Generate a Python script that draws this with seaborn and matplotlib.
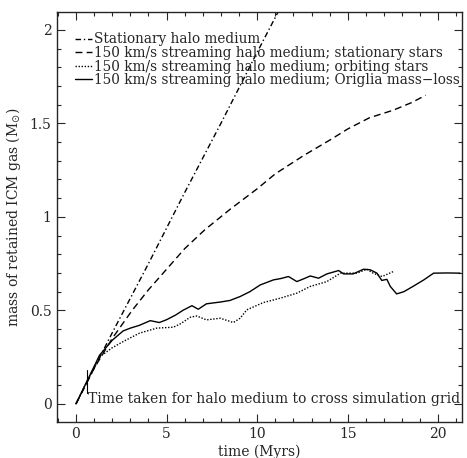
import matplotlib
matplotlib.use("Agg")
import matplotlib.pyplot as plt
from matplotlib.ticker import MultipleLocator
import seaborn as sns
import pandas as pd

# Stationary halo medium
time_stationary = [0, 2, 4, 6, 8, 10, 11.5]
mass_stationary = [0, 0.38, 0.75, 1.13, 1.50, 1.88, 2.16]

# 150 km/s streaming halo medium; stationary stars
time_stat_stars = [0, 1, 2, 3.1, 4, 5, 6, 7.1, 8.5, 10, 11, 12.6, 14, 15, 16.2, 17.5, 18.5, 19.3]
mass_stat_stars = [0, 0.19, 0.35, 0.5, 0.61, 0.72, 0.83, 0.93, 1.04, 1.15, 1.23, 1.33,
                   1.41, 1.47, 1.53, 1.57, 1.61, 1.65]

# 150 km/s streaming halo medium; orbiting stars
time_orbit = [0, 0.6, 1.33, 2.0, 2.6, 3.5, 4.46, 5.38, 5.8, 6.3, 6.67, 7.2, 7.96, 8.69,
              9.06, 9.43, 10.35, 11.27, 12.19, 12.93, 13.85, 14.6, 15.5, 16.06, 16.4,
              16.9, 17.5]
mass_orbit = [0, 0.12, 0.253, 0.30, 0.333, 0.378, 0.405, 0.41, 0.43, 0.463, 0.47, 0.449,
              0.458, 0.435, 0.458, 0.503, 0.542, 0.565, 0.592, 0.628, 0.654, 0.699, 0.699,
              0.72, 0.699, 0.681, 0.707]

# 150 km/s streaming halo medium; Origlia mass-loss
time_origlia = [0, 0.6, 1.3, 2.0, 2.6, 3.0, 3.5, 4.1, 4.6, 5.0, 5.5, 5.9, 6.4, 6.75, 7.2,
                8.0, 8.5, 9.06, 9.6, 10.17, 10.9, 11.3, 11.73, 12.19, 12.6, 12.93, 13.39,
                13.85, 14.5, 14.77, 15.3, 15.87, 16.24, 16.61, 16.88, 17.16, 17.35, 17.7,
                18.1, 18.6, 19.2, 19.74, 20.5, 21.2]
mass_origlia = [0, 0.12, 0.26, 0.34, 0.39, 0.405, 0.42, 0.445, 0.435, 0.45, 0.475, 0.50,
                0.525, 0.506, 0.535, 0.545, 0.553, 0.574, 0.60, 0.636, 0.663, 0.67, 0.681,
                0.654, 0.67, 0.684, 0.672, 0.695, 0.713, 0.695, 0.695, 0.72, 0.717, 0.699,
                0.66, 0.666, 0.628, 0.588, 0.60, 0.628, 0.663, 0.699, 0.70, 0.699]

labels = ["Stationary halo medium",
          "150 km/s streaming halo medium; stationary stars",
          "150 km/s streaming halo medium; orbiting stars",
          "150 km/s streaming halo medium; Origlia mass\u2212loss"]

sns.set_style("ticks")
plt.rcParams["font.family"] = ["DejaVu Serif"]

fig = plt.figure(figsize=(4.67, 4.58), dpi=100)
ax = fig.add_axes([0.122, 0.079, 0.867, 0.895])

series = [
    (time_stationary, mass_stationary, (0, (4, 2, 1, 2))),
    (time_stat_stars, mass_stat_stars, (0, (5, 3))),
    (time_orbit, mass_orbit, (0, (1, 1.2))),
    (time_origlia, mass_origlia, "-"),
]
for (t, m, ls), lab in zip(series, labels):
    df = pd.DataFrame({"time": t, "mass": m})
    sns.lineplot(data=df, x="time", y="mass", ax=ax, color="black", lw=1.0,
                 linestyle=ls, label=lab, sort=False)

ax.set_xlim(-1.05, 21.3)
ax.set_ylim(-0.096, 2.096)
ax.xaxis.set_major_locator(MultipleLocator(5))
ax.xaxis.set_minor_locator(MultipleLocator(1))
ax.yaxis.set_major_locator(MultipleLocator(0.5))
ax.yaxis.set_minor_locator(MultipleLocator(0.1))
ax.set_yticks([0, 0.5, 1, 1.5, 2])
ax.set_yticklabels(["0", "0.5", "1", "1.5", "2"])
ax.tick_params(which="both", direction="in", top=True, right=True, labelsize=10, pad=4,
               width=0.8)
ax.tick_params(which="major", length=6)
ax.tick_params(which="minor", length=3)
for s in ax.spines.values():
    s.set_linewidth(1.0)

ax.set_xlabel("time (Myrs)", fontsize=10, labelpad=2)
ax.set_ylabel(r"mass of retained ICM gas (M$_{\odot}$)", fontsize=10, labelpad=5)

# crossing-time marker and note
ax.plot([0.59, 0.59], [0.06, 0.18], color="black", lw=0.8)
ax.text(0.67, 0.006, "Time taken for halo medium to cross simulation grid",
        fontsize=10, va="baseline", ha="left")

ax.legend(loc="upper left", bbox_to_anchor=(0.045, 0.95), frameon=False, fontsize=9.8,
          handlelength=1.2, handletextpad=0.15, labelspacing=-0.03, borderaxespad=0,
          borderpad=0)

fig.savefig("out.png", dpi=100)
